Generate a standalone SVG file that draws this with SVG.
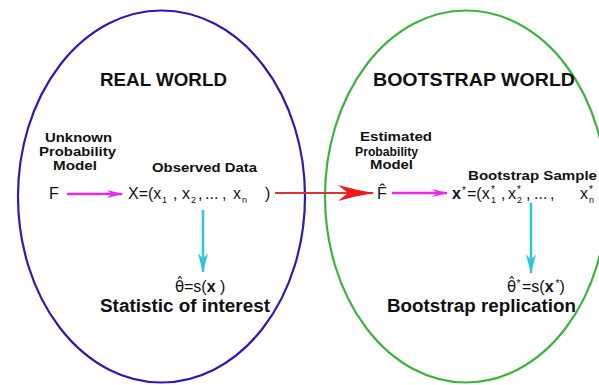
<svg xmlns="http://www.w3.org/2000/svg" width="599" height="385" viewBox="0 0 599 385">
<style>
  .bg { fill: #ffffff; }
  .world { fill: none; stroke-width: 2.2; }
  .blue { stroke: #2a1cae; }
  .green { stroke: #3cb43c; }
  text { font-family: "Liberation Sans", Arial, sans-serif; fill: #111111; }
  .title { font-size: 18px; font-weight: bold; }
  .lbl { font-size: 13px; font-weight: bold; }
  .big { font-size: 18px; font-weight: bold; }
  .f { font-size: 16px; }
  .sub { font-size: 9px; }
  .sup { font-size: 10px; }
  .theta { font-family: "DejaVu Sans", sans-serif; font-size: 15px; }
  .b { font-weight: bold; }
  .mag { stroke: #ea2ae8; stroke-width: 2.5; fill: none; }
  .cyan { stroke: #33c5d3; stroke-width: 2.5; fill: none; }
  .red { stroke: #d83434; stroke-width: 2.2; fill: none; }
</style>
<defs>
  <marker id="mHead" viewBox="0 0 16 8" refX="15" refY="4" markerWidth="16" markerHeight="8" markerUnits="userSpaceOnUse" orient="auto">
    <path d="M0,0 L16,4 L0,8 L5,4 Z" fill="#ea2ae8"/>
  </marker>
  <marker id="cHead" viewBox="0 0 10 20" refX="5" refY="19" markerWidth="10" markerHeight="20" markerUnits="userSpaceOnUse" orient="0">
    <path d="M0,0 L5,6 L10,0 L5,20 Z" fill="#33c5d3"/>
  </marker>
  <marker id="rHead" viewBox="0 0 36 16" refX="35" refY="8" markerWidth="36" markerHeight="16" markerUnits="userSpaceOnUse" orient="auto">
    <path d="M0,0 Q18,5 36,8 Q18,11 0,16 L10,8 Z" fill="#ee1a1a"/>
  </marker>
</defs>
<rect class="bg" x="0" y="0" width="599" height="385"/>

<g id="real-world">
  <ellipse class="world blue" cx="161.5" cy="196.5" rx="143.5" ry="186"/>
  <text class="title" x="100" y="86" textLength="127" lengthAdjust="spacingAndGlyphs">REAL WORLD</text>
</g>
<g id="bootstrap-world">
  <ellipse class="world green" cx="466" cy="196.5" rx="141" ry="186"/>
  <text class="title" x="373" y="86" textLength="202" lengthAdjust="spacingAndGlyphs">BOOTSTRAP WORLD</text>
</g>

<g id="unknown-model">
  <text class="lbl" x="45" y="142" textLength="67" lengthAdjust="spacingAndGlyphs">Unknown</text>
  <text class="lbl" x="39" y="156" textLength="77" lengthAdjust="spacingAndGlyphs">Probability</text>
  <text class="lbl" x="53" y="170" textLength="44" lengthAdjust="spacingAndGlyphs">Model</text>
  <text class="f" x="49" y="199">F</text>
</g>

<g id="observed-data">
  <text class="lbl" x="152" y="172" textLength="105" lengthAdjust="spacingAndGlyphs">Observed Data</text>
  <text class="f" y="199"><tspan x="128">X=(x</tspan><tspan class="sub" x="162" y="203">1</tspan><tspan x="173" y="199">,</tspan><tspan x="182">x</tspan><tspan class="sub" x="191" y="203">2</tspan><tspan x="198" y="199">,</tspan><tspan x="205">...</tspan><tspan x="222">,</tspan><tspan x="233">x</tspan><tspan class="sub" x="242" y="203">n</tspan><tspan x="265" y="199">)</tspan></text>
</g>

<g id="statistic">
  <text class="f" y="292"><tspan class="theta" x="175">θ̂</tspan><tspan x="184">=s(</tspan><tspan class="b">x</tspan> )</text>
  <text class="big" x="100" y="312" textLength="170" lengthAdjust="spacingAndGlyphs">Statistic of interest</text>
</g>

<g id="estimated-model">
  <text class="lbl" x="360" y="141" textLength="72" lengthAdjust="spacingAndGlyphs">Estimated</text>
  <text class="lbl" x="355" y="155.5" style="font-size:12px" textLength="63" lengthAdjust="spacingAndGlyphs">Probability</text>
  <text class="lbl" x="370" y="169" textLength="43" lengthAdjust="spacingAndGlyphs">Model</text>
  <text class="f" x="377" y="199">F̂</text>
</g>

<g id="bootstrap-sample">
  <text class="lbl" x="468" y="180" textLength="129" lengthAdjust="spacingAndGlyphs">Bootstrap Sample</text>
  <text class="f" y="199"><tspan class="b" x="452">x</tspan><tspan class="sup" x="462" y="194">*</tspan><tspan x="467" y="199">=(x</tspan><tspan class="sup" x="491" y="193">*</tspan><tspan class="sub" x="491" y="203">1</tspan><tspan x="501" y="199">,</tspan><tspan x="508">x</tspan><tspan class="sup" x="517" y="193">*</tspan><tspan class="sub" x="517" y="203">2</tspan><tspan x="526" y="199">,</tspan><tspan x="534">...</tspan><tspan x="550">,</tspan><tspan x="580">x</tspan><tspan class="sup" x="589" y="193">*</tspan><tspan class="sub" x="589" y="203">n</tspan></text>
</g>

<g id="replication">
  <text class="f" y="292"><tspan class="theta" x="507">θ̂</tspan><tspan class="sup" x="516.5" y="287">*</tspan><tspan x="522" y="292">=s(</tspan><tspan class="b">x</tspan><tspan class="sup" dx="2" y="287">*</tspan><tspan y="292">)</tspan></text>
  <text class="big" x="387" y="312" textLength="189" lengthAdjust="spacingAndGlyphs">Bootstrap replication</text>
</g>

<g id="connectors">
  <line class="mag" x1="67" y1="194" x2="122" y2="194" marker-end="url(#mHead)"/>
  <line class="red" x1="275" y1="193" x2="373" y2="193" marker-end="url(#rHead)"/>
  <line class="mag" x1="392" y1="193" x2="447" y2="193" marker-end="url(#mHead)"/>
  <line class="cyan" x1="203" y1="210" x2="203" y2="272" marker-end="url(#cHead)"/>
  <line class="cyan" x1="531" y1="203" x2="531" y2="273" marker-end="url(#cHead)"/>
</g>
</svg>
